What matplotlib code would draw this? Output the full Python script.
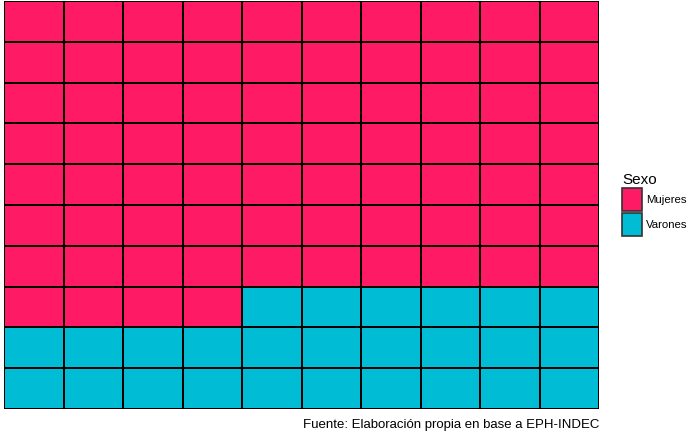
import numpy as np
import matplotlib.pyplot as plt
from matplotlib.colors import ListedColormap
from matplotlib.patches import Patch

categorias = ['Mujeres', 'Varones']
valores = [74, 26]
colores = ['#FF1A66', '#00BCD4']

nfil, ncol = 10, 10
celdas = np.repeat(np.arange(len(valores)), valores)
grid = celdas.reshape(nfil, ncol)

fig = plt.figure(figsize=(7, 4.32), dpi=100)
ax = fig.add_axes([4/700, 1 - 409/432, 595/700, 408/432])
ax.pcolormesh(grid, cmap=ListedColormap(colores), vmin=-0.5, vmax=1.5,
              edgecolors='black', linewidth=1.1)
ax.set_xlim(0, ncol)
ax.set_ylim(nfil, 0)
ax.set_axis_off()

handles = [Patch(facecolor=c, edgecolor='#333333', linewidth=1.2) for c in colores]
leg = fig.legend(handles, categorias, title='Sexo', loc='upper left',
                 bbox_to_anchor=(614/700, 1 - 165/432), frameon=False,
                 handlelength=1.8, handleheight=2.75,
                 handletextpad=0.3, labelspacing=0.12, alignment='left',
                 borderaxespad=0.3,
                 prop={'family': 'Liberation Sans', 'size': 8.2})
leg.get_title().set_family('Liberation Sans')
leg.get_title().set_fontsize(11)

fig.text(599/700, 1 - 425/432, 'Fuente: Elaboración propia en base a EPH-INDEC',
         ha='right', va='center', fontsize=9.5, family='Liberation Sans')

fig.savefig('out.png', dpi=100)
